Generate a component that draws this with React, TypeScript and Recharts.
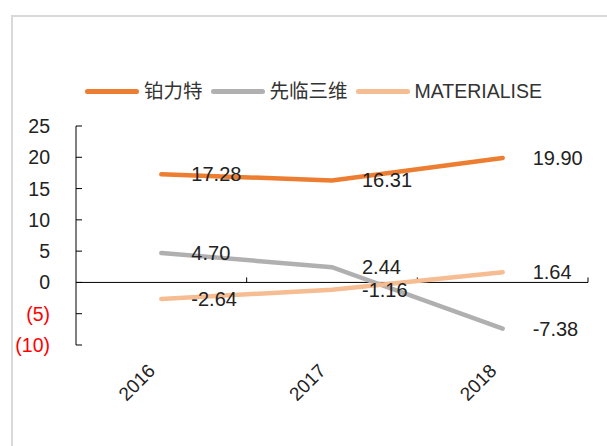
import React from 'react';
import { LineChart, Line, XAxis, YAxis, ReferenceLine, LabelList } from 'recharts';

const years = ['2016', '2017', '2018'];
const bltValues = [17.28, 16.31, 19.9];
const shiningValues = [4.7, 2.44, -7.38];
const materialiseValues = [-2.64, -1.16, 1.64];
const yTicks = [-10, -5, 0, 5, 10, 15, 20, 25];

const seriesNames = ['铂力特', '先临三维', 'MATERIALISE'];
const colors = ['#ED7D31', '#B0B0B0', '#F6BC92'];

const data = years.map((year, i) => ({
  year,
  blt: bltValues[i],
  shining: shiningValues[i],
  materialise: materialiseValues[i],
}));

const FONT = '"Liberation Sans", Arial, "Noto Sans CJK SC", sans-serif';
const FS = 19;

const YTick = ({ x, y, payload }: any) => {
  const v = payload.value;
  const neg = v < 0;
  return (
    <g>
      <line x1={x} x2={x + 6} y1={y} y2={y} stroke="#000" strokeWidth={1} />
      <text
        x={x - 26}
        y={y}
        textAnchor="end"
        dominantBaseline="central"
        fontSize={FS + 0.5}
        fontFamily={FONT}
        fill={neg ? '#FF0000' : '#222'}
      >
        {neg ? `(${Math.abs(v)})` : v}
      </text>
    </g>
  );
};

const XTick = ({ x, y, payload }: any) => {
  const tx = x - 5;
  const ty = y + 27;
  return (
    <text
      x={tx}
      y={ty}
      textAnchor="end"
      fontSize={FS}
      fontFamily={FONT}
      fill="#222"
      transform={`rotate(-45, ${tx}, ${ty})`}
    >
      {payload.value}
    </text>
  );
};

const ZeroLine = ({ x1, x2, y1 }: any) => {
  const n = years.length;
  const step = (x2 - x1) / n;
  return (
    <g>
      <line x1={x1} x2={x2} y1={y1} y2={y1} stroke="#000" strokeWidth={1} />
      {years.map((_, i) => (
        <line
          key={i}
          x1={x1 + step * (i + 1)}
          x2={x1 + step * (i + 1)}
          y1={y1}
          y2={y1 - 5}
          stroke="#000"
          strokeWidth={1}
        />
      ))}
    </g>
  );
};

const ValueLabel = ({ x, y, value }: any) => (
  <text
    x={x + 30}
    y={y}
    dominantBaseline="central"
    fontSize={20}
    fontFamily={FONT}
    fill="#222"
  >
    {Number(value).toFixed(2)}
  </text>
);

const ChartLegend = () => (
  <div
    style={{
      position: 'absolute',
      top: 80,
      left: 85,
      display: 'flex',
      alignItems: 'center',
      fontFamily: FONT,
      fontSize: FS + 0.5,
      lineHeight: '22px',
      color: '#333',
      whiteSpace: 'nowrap',
    }}
  >
    {seriesNames.map((name, i) => (
      <div key={name} style={{ display: 'flex', alignItems: 'center', marginRight: 8 }}>
        <span style={{ display: 'inline-block', width: 54, height: 5, borderRadius: 3, background: colors[i] }} />
        <span style={{ marginLeft: 5 }}>{name}</span>
      </div>
    ))}
  </div>
);

export default function App() {
  return (
    <div style={{ position: 'absolute', left: 0, top: 0, width: 607, height: 446, overflow: 'hidden', background: '#fff' }}>
      <div
        style={{
          position: 'absolute',
          left: 11,
          top: 15,
          width: 700,
          height: 500,
          borderLeft: '2px solid #d9d9d9',
          borderTop: '2px solid #d9d9d9',
        }}
      />
      <ChartLegend />
      <LineChart
        width={607}
        height={446}
        data={data}
        margin={{ top: 126, right: 19, bottom: 41, left: 16 }}
        style={{ position: 'absolute', left: 0, top: 0 }}
      >
        <XAxis
          dataKey="year"
          scale="band"
          axisLine={false}
          tickLine={false}
          tickSize={0}
          tickMargin={0}
          height={60}
          tick={<XTick />}
          interval={0}
        />
        <YAxis
          width={60}
          domain={[-10, 25]}
          ticks={yTicks}
          interval={0}
          axisLine={{ stroke: '#000', strokeWidth: 1 }}
          tickLine={false}
          tickSize={0}
          tickMargin={0}
          tick={<YTick />}
        />
        <ReferenceLine y={0} shape={<ZeroLine />} />
        <Line
          name={seriesNames[0]}
          dataKey="blt"
          stroke={colors[0]}
          strokeWidth={4.5}
          strokeLinecap="round"
          dot={false}
          isAnimationActive={false}
        >
          <LabelList dataKey="blt" content={<ValueLabel />} />
        </Line>
        <Line
          name={seriesNames[1]}
          dataKey="shining"
          stroke={colors[1]}
          strokeWidth={4.5}
          strokeLinecap="round"
          dot={false}
          isAnimationActive={false}
        >
          <LabelList dataKey="shining" content={<ValueLabel />} />
        </Line>
        <Line
          name={seriesNames[2]}
          dataKey="materialise"
          stroke={colors[2]}
          strokeWidth={4.5}
          strokeLinecap="round"
          dot={false}
          isAnimationActive={false}
        >
          <LabelList dataKey="materialise" content={<ValueLabel />} />
        </Line>
      </LineChart>
    </div>
  );
}
